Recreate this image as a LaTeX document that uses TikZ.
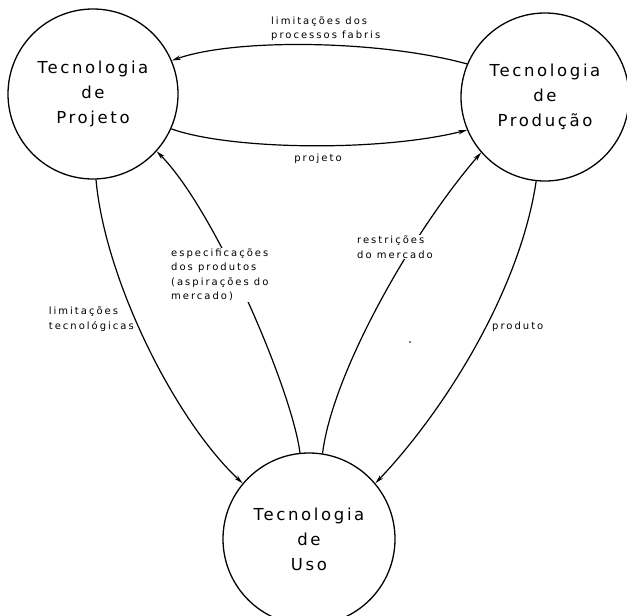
\documentclass[tikz,border=0pt]{standalone}
\usepackage{fontspec}
\usetikzlibrary{arrows.meta}
\newfontfamily\circfont[LetterSpace=16]{DejaVu Sans}
\newfontfamily\labfont[LetterSpace=20]{DejaVu Sans}
\begin{document}
\begin{tikzpicture}[x=1pt,y=-1pt,
  tech/.style={circle,draw,line width=1.3pt,inner sep=0pt,align=center,
    font=\circfont\fontsize{16.5}{25}\selectfont},
  conn/.style={line width=1.2pt},
  arr/.style={conn,-{Stealth[length=9pt,width=4.5pt]}},
  lab/.style={align=left,inner sep=1pt,font=\labfont\fontsize{10}{14.5}\selectfont},
  labw/.style={lab,fill=white}]
\useasboundingbox (0,0) rectangle (627,616);
\node[tech,minimum size=170pt] (P) at (93,94) {Tecnologia\\de\\Projeto};
\node[tech,minimum size=168pt] (R) at (545,97) {Tecnologia\\de\\Produção};
\node[tech,minimum size=172pt] (U) at (309,539) {Tecnologia\\de\\Uso};
% top: Produção -> Projeto
\draw[arr] (R.157.7) .. controls (380,40) and (235,38) .. (P.23.9);
% middle: Projeto -> Produção
\draw[arr] (P.-24.5) .. controls (230,150) and (380,152) .. (R.203.9);
% limitações tecnológicas: Projeto -> Uso
\draw[arr] (P.-88.6) .. controls (105,280) and (175,420) .. (U.140.1);
% especificações: Uso -> Projeto
\draw[arr] (U.96) .. controls (292,390) and (215,210) .. (P.-42.2);
% restrições: Uso -> Produção
\draw[arr] (U.81.4) .. controls (332,375) and (410,235) .. (R.221.6);
% produto: Produção -> Uso
\draw[arr] (R.264.5) .. controls (520,290) and (445,410) .. (U.40);
% labels
\node[lab,anchor=west] (l1) at (270,28.5) {limitações dos\\processos fabris};
\node[lab] (l2) at (318,159) {projeto};
\node[labw,anchor=west] (l3) at (170,275) {especificações\\dos produtos\\(aspirações do\\mercado)};
\node[labw,anchor=west] (l4) at (356,247) {restrições\\do mercado};
\node[lab,anchor=east] (l5) at (135,319) {limitações\\tecnológicas};
\node[lab,anchor=west] (l6) at (491,327) {produto};
\fill (410,342) circle (0.9pt);
\end{tikzpicture}
\end{document}
